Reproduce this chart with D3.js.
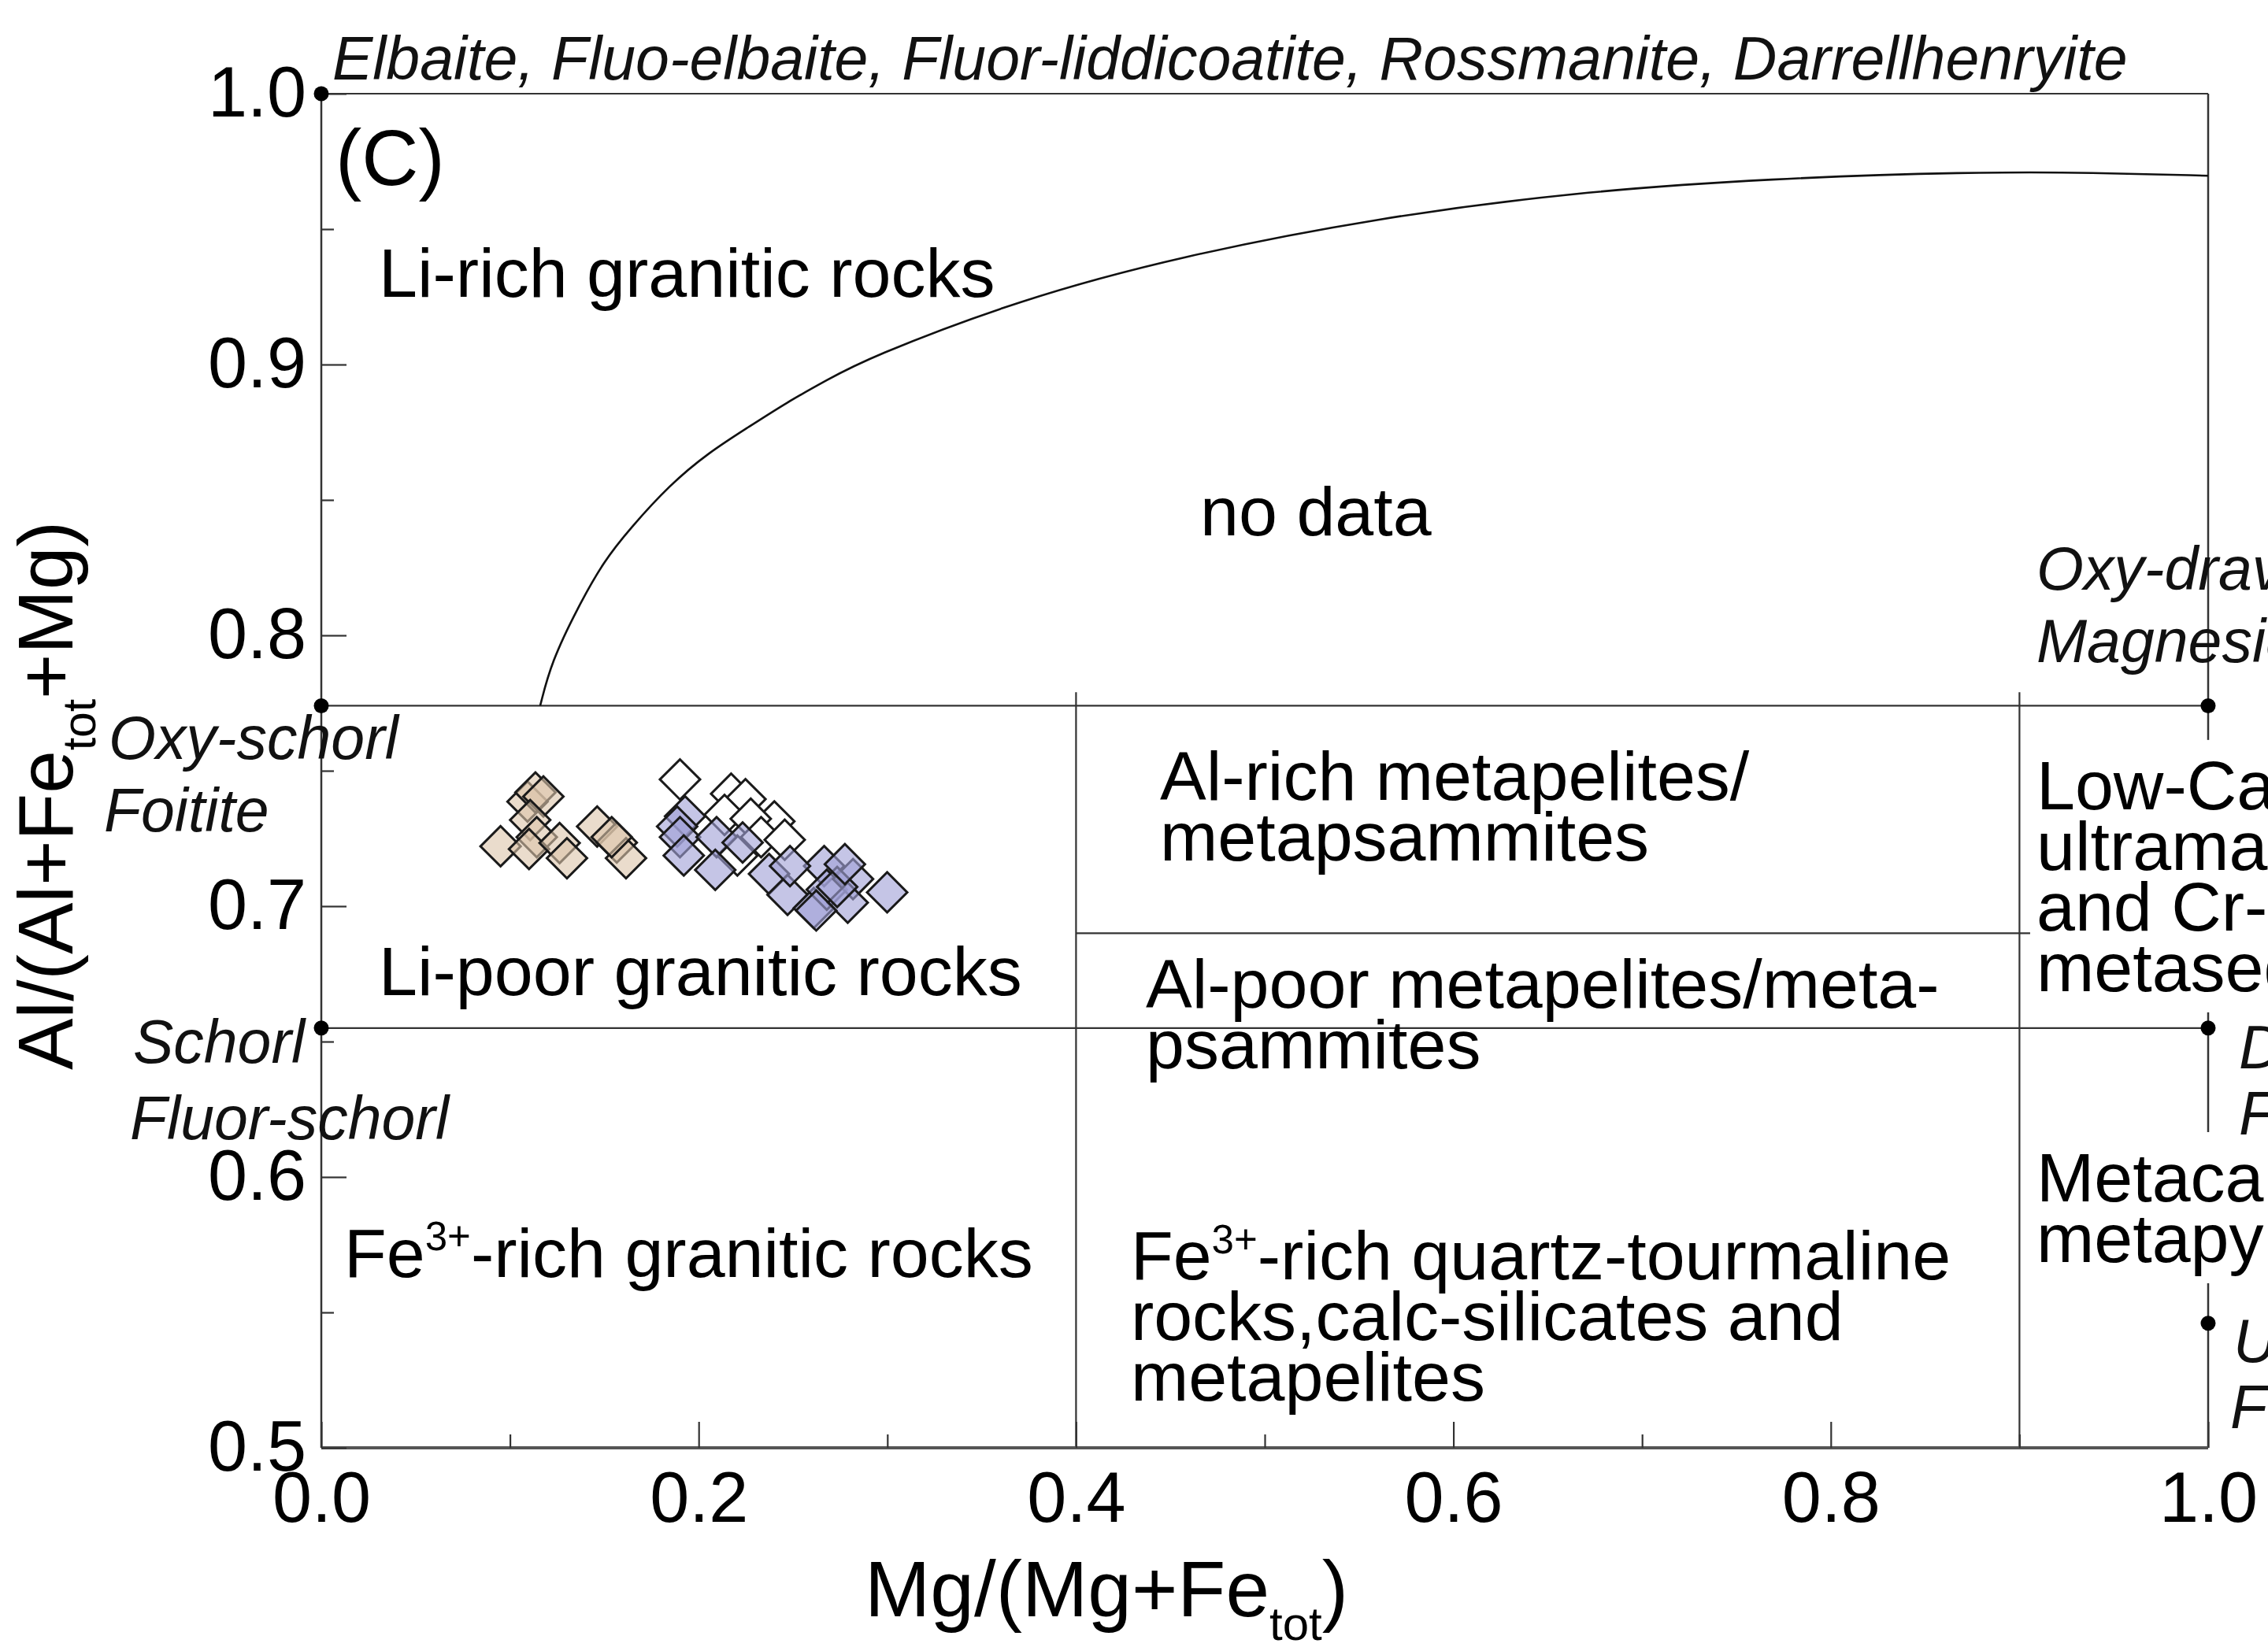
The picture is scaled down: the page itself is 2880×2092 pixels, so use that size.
<!DOCTYPE html>
<html>
<head>
<meta charset="utf-8">
<script src="https://cdn.jsdelivr.net/npm/d3@7"></script>
<style>
    body { margin: 0; background: #fff; }
    svg { display: block; font-family: "Liberation Sans", Arial, sans-serif; }
</style>
</head>
<body>
<script>
// axis ticks
const xMajor = [0, 0.2, 0.4, 0.6, 0.8, 1.0];
const xMinor = [0.1, 0.3, 0.5, 0.7, 0.9];
const yMajor = [0.5, 0.6, 0.7, 0.8, 0.9, 1.0];
const yMinor = [0.55, 0.65, 0.75, 0.85, 0.95];

// field boundaries: [x0, x1, y] and [x, y0, y1]
const hBounds = [[0, 1, 1.0], [0, 1, 0.774], [0, 1, 0.655], [0.4, 1, 0.690]];
const vBounds = [[0.4, 0.5, 0.779], [0.9, 0.5, 0.779]];
const endMembers = [[0, 1.0], [0, 0.774], [0, 0.655], [1, 0.774], [1, 0.655], [1, 0.546]];

// Li-rich / no data curve
const curveX = [0.116, 0.1219, 0.1358, 0.1497, 0.1636, 0.1845, 0.2053, 0.2262, 0.2471, 0.2679, 0.2888, 0.37, 0.4558, 0.5601, 0.6644, 0.7688, 0.8731, 0.9399, 1.0];
const curveY = [0.774, 0.7901, 0.8101, 0.8274, 0.8394, 0.8555, 0.8675, 0.8768, 0.8862, 0.8942, 0.9022, 0.924, 0.9401, 0.9542, 0.9637, 0.9687, 0.9711, 0.9709, 0.9697];

// samples
const whiteX = [0.1901, 0.2172, 0.2248, 0.2401, 0.2137, 0.2276, 0.2331, 0.2205, 0.2456];
const whiteY = [0.7468, 0.7415, 0.7395, 0.7313, 0.7337, 0.7323, 0.7255, 0.7187, 0.7245];
const blueX = [0.1928, 0.1886, 0.1901, 0.1921, 0.2095, 0.2088, 0.2373, 0.2471, 0.2610, 0.2665, 0.2679, 0.2484, 0.2233, 0.2999, 0.2818, 0.2790, 0.2623, 0.2734, 0.2775];
const blueY = [0.7332, 0.7294, 0.7255, 0.7187, 0.7255, 0.7134, 0.7119, 0.7042, 0.6993, 0.7148, 0.7061, 0.7148, 0.7235, 0.7051, 0.7100, 0.7013, 0.6984, 0.7071, 0.7155];
const orangeX = [0.0950, 0.1093, 0.1135, 0.1177, 0.1107, 0.1142, 0.1101, 0.1263, 0.1302, 0.1462, 0.1566, 0.1615, 0.1539];
const orangeY = [0.7221, 0.7386, 0.7420, 0.7405, 0.7318, 0.7255, 0.7211, 0.7233, 0.7177, 0.7294, 0.7235, 0.7177, 0.7255];

// labels (anchor in data units)
const fieldLabels = [
    {lines: ['Li-rich granitic rocks'], x: 0.0305, y: 0.925},
    {lines: ['no data'], x: 0.4658, y: 0.8369},
    {lines: ['Li-poor granitic rocks'], x: 0.0305, y: 0.6672},
    {lines: ['Fe^{3+}-rich granitic rocks'], x: 0.0121, y: 0.5631},
    {lines: ['Al-rich metapelites/', 'metapsammites'], x: 0.4445, y: 0.7392},
    {lines: ['Al-poor metapelites/meta-', 'psammites'], x: 0.437, y: 0.6625},
    {lines: ['Fe^{3+}-rich quartz-tourmaline', 'rocks,calc-silicates and', 'metapelites'], x: 0.429, y: 0.5622},
    {lines: ['Low-Ca', 'ultramafics', 'and Cr-, V-rich', 'metasediments'], x: 0.909, y: 0.7358, knockout: true},
    {lines: ['Metacarbonates and', 'metapyroxenites'], x: 0.909, y: 0.591, knockout: true}
];
const mineralLabels = [
    {text: 'Elbaite, Fluo-elbaite, Fluor-liddicoatite, Rossmanite, Darrellhenryite', x: 0.0058, y: 1.0052},
    {text: 'Oxy-schorl', x: -0.1127, y: 0.7544},
    {text: 'Foitite', x: -0.1152, y: 0.7276},
    {text: 'Schorl', x: -0.0998, y: 0.6422},
    {text: 'Fluor-schorl', x: -0.1014, y: 0.6140},
    {text: 'Oxy-dravite', x: 0.909, y: 0.8169},
    {text: 'Magnesio-foitite', x: 0.909, y: 0.7901},
    {text: 'Dravite', x: 1.0163, y: 0.6401},
    {text: 'Fluor-dravite', x: 1.0163, y: 0.6157},
    {text: 'Uvite', x: 1.0134, y: 0.5317},
    {text: 'Fluor-uvite', x: 1.0117, y: 0.5073}
];

const width = 2880, height = 2092;
const margin = {left: 408, right: 76, top: 119, bottom: 253};

const svg = d3.select('body').append('svg')
    .attr('width', width)
    .attr('height', height);

const x = d3.scaleLinear().domain([0, 1]).range([margin.left, width - margin.right]);
const y = d3.scaleLinear().domain([0.5, 1]).range([height - margin.bottom, margin.top]);

// text with ^{sup} and _{sub} pieces
function richText(sel, str, fs) {
    const parts = str.split(/(\^\{[^}]*\}|_\{[^}]*\})/).filter(s => s.length);
    let shift = 0;
    parts.forEach(p => {
        let target = 0, txt = p, size = fs;
        if (p.startsWith('^{')) { target = -0.38 * fs; txt = p.slice(2, -1); size = 0.58 * fs; }
        else if (p.startsWith('_{')) { target = 0.3 * fs; txt = p.slice(2, -1); size = 0.6 * fs; }
        sel.append('tspan').attr('dy', target - shift).attr('font-size', size).text(txt);
        shift = target;
    });
}

// frame and boundaries
const lines = svg.append('g').attr('stroke', '#333').attr('fill', 'none');
lines.append('line')
    .attr('x1', x(0)).attr('x2', x(0)).attr('y1', y(0.5)).attr('y2', y(1))
    .attr('stroke-width', 2.5);
lines.append('line')
    .attr('x1', x(1)).attr('x2', x(1)).attr('y1', y(0.5)).attr('y2', y(1))
    .attr('stroke-width', 2.5);
lines.selectAll('.hb').data(hBounds).enter().append('line')
    .attr('class', 'hb')
    .attr('x1', d => x(d[0])).attr('x2', d => x(d[1]))
    .attr('y1', d => y(d[2])).attr('y2', d => y(d[2]))
    .attr('stroke-width', 2.2);
lines.selectAll('.vb').data(vBounds).enter().append('line')
    .attr('class', 'vb')
    .attr('x1', d => x(d[0])).attr('x2', d => x(d[0]))
    .attr('y1', d => y(d[1])).attr('y2', d => y(d[2]))
    .attr('stroke-width', 2.2);
lines.append('line')
    .attr('x1', x(0)).attr('x2', x(1)).attr('y1', y(0.5)).attr('y2', y(0.5))
    .attr('stroke', '#555')
    .attr('stroke-width', 4);

// curve
const curveData = curveX.map((v, i) => [v, curveY[i]]);
svg.append('path')
    .datum(curveData)
    .attr('fill', 'none')
    .attr('stroke', '#111')
    .attr('stroke-width', 2.6)
    .attr('d', d3.line().x(d => x(d[0])).y(d => y(d[1])).curve(d3.curveBasis));

// axes
const fsTick = 90;
function styleAxis(g) {
    g.select('.domain').remove();
    g.selectAll('.tick line').attr('stroke', '#333').attr('stroke-width', 2.2);
    g.selectAll('.tick text').attr('font-size', fsTick).attr('fill', '#000')
        .attr('font-family', '"Liberation Sans", Arial, sans-serif');
}
svg.append('g')
    .attr('transform', `translate(0,${y(0.5)})`)
    .call(d3.axisBottom(x).tickValues(xMajor).tickSize(-33).tickPadding(30).tickFormat(d3.format('.1f')))
    .call(styleAxis);
svg.append('g')
    .attr('transform', `translate(0,${y(0.5)})`)
    .call(d3.axisBottom(x).tickValues(xMinor).tickSize(-17).tickFormat(''))
    .call(styleAxis);
svg.append('g')
    .attr('transform', `translate(${x(0)},0)`)
    .call(d3.axisLeft(y).tickValues(yMajor).tickSize(-32).tickPadding(19).tickFormat(d3.format('.1f')))
    .call(styleAxis);
svg.append('g')
    .attr('transform', `translate(${x(0)},0)`)
    .call(d3.axisLeft(y).tickValues(yMinor).tickSize(-16).tickFormat(''))
    .call(styleAxis);

// field labels
const fsField = 88;
fieldLabels.forEach(lab => {
    const g = svg.append('g');
    lab.lines.forEach((ln, i) => {
        const t = g.append('text')
            .attr('x', x(lab.x))
            .attr('y', y(lab.y) + i * 77)
            .attr('font-size', fsField)
            .attr('fill', '#000');
        richText(t, ln, fsField);
    });
    if (lab.knockout) {
        const bb = g.node().getBBox();
        g.insert('rect', ':first-child')
            .attr('x', bb.x - 8)
            .attr('y', bb.y - 8)
            .attr('width', bb.width + 16)
            .attr('height', bb.height + 16)
            .attr('fill', '#fff');
    }
});

svg.append('text')
    .attr('x', x(0.0075))
    .attr('y', y(0.9663))
    .attr('font-size', 100)
    .text('(C)');

// mineral end-member labels
svg.append('g').selectAll('text').data(mineralLabels).enter().append('text')
    .attr('x', d => x(d.x))
    .attr('y', d => y(d.y))
    .attr('font-size', 77)
    .attr('font-style', 'italic')
    .attr('fill', '#111')
    .text(d => d.text);

// end-member dots
svg.append('g').selectAll('circle').data(endMembers).enter().append('circle')
    .attr('cx', d => x(d[0]))
    .attr('cy', d => y(d[1]))
    .attr('r', 9.5)
    .attr('fill', '#000');

// samples
const diamond = d3.symbol().type(d3.symbolSquare).size(1300);
function drawSeries(xs, ys, fill, opacity) {
    svg.append('g').selectAll('path').data(xs.map((v, i) => [v, ys[i]])).enter().append('path')
        .attr('d', diamond)
        .attr('transform', d => `translate(${x(d[0])},${y(d[1])}) rotate(45)`)
        .attr('fill', fill)
        .attr('fill-opacity', opacity)
        .attr('stroke', '#1a1a1a')
        .attr('stroke-width', 3);
}
drawSeries(whiteX, whiteY, '#ffffff', 1);
drawSeries(blueX, blueY, '#a2a2d6', 0.62);
drawSeries(orangeX, orangeY, '#dcc4aa', 0.6);

// axis titles
const fsTitle = 100;
const xt = svg.append('text')
    .attr('x', 1098)
    .attr('y', 2053)
    .attr('font-size', fsTitle);
richText(xt, 'Mg/(Mg+Fe_{tot})', fsTitle);

const yt = svg.append('text')
    .attr('transform', 'translate(92,1359) rotate(-90)')
    .attr('font-size', 98);
richText(yt, 'Al/(Al+Fe_{tot}+Mg)', 98);
</script>
</body>
</html>
